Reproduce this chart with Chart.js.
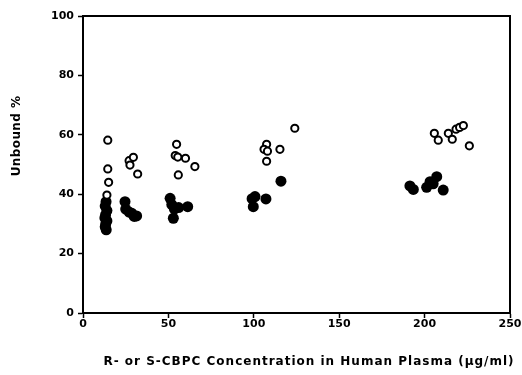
<!DOCTYPE html>
<html>
<head>
<meta charset="utf-8">
<script src="https://cdn.jsdelivr.net/npm/chart.js@4"></script>
<style>
  html, body { margin: 0; padding: 0; background: #fff; }
  #plot { display: block; }
</style>
</head>
<body>
<canvas id="plot" width="522" height="375"></canvas>
<script>
// Open circles (unbound %, first enantiomer)
const openX = [14.5, 14.5, 15, 14, 27, 29.5, 27.5, 32, 54.8, 54, 55.5, 60, 65.5, 55.8,
               124, 107.5, 106, 108, 115.3, 107.5, 205.7, 208, 213.9, 216.2, 218.4, 220.5, 222.7, 226.2];
const openY = [58.2, 48.5, 44, 39.7, 51.3, 52.4, 49.8, 46.8, 56.8, 53, 52.5, 52.1, 49.3, 46.5,
               62.2, 56.8, 55.1, 54.5, 55.1, 51.1, 60.5, 58.2, 60.5, 58.5, 61.9, 62.5, 63.1, 56.3];

// Filled circles (second enantiomer)
const filledX = [13.5, 13, 14, 13.2, 12.8, 14, 13.3, 13, 13.6, 24.6, 25, 27, 28.5, 31.4, 30,
                 51, 52, 53.5, 52.9, 56, 61.3, 100.7, 99.7, 107.1, 99, 115.9,
                 191.4, 193.4, 201.2, 203.2, 207.1, 205, 210.9];
const filledY = [37.5, 36, 34.5, 33, 32, 31, 30, 29, 28, 37.5, 35, 34, 33.6, 32.7, 32.5,
                 38.6, 36.5, 35, 31.9, 35.5, 35.8, 39.2, 35.8, 38.4, 38.5, 44.4,
                 42.8, 41.6, 42.3, 44.2, 45.9, 43.5, 41.4];

const xTicks = [0, 50, 100, 150, 200, 250];
const yTicks = [0, 20, 40, 60, 80, 100];
const xTitle = 'R- or S-CBPC Concentration in Human Plasma (\u00b5g/ml)';
const yTitle = 'Unbound %';

function toPoints(xs, ys) {
    return xs.map((x, i) => ({ x: x, y: ys[i] }));
}

const FONT = 'DejaVu Sans, sans-serif';

// frame on top/right plus axis titles
const framePlugin = {
    id: 'frame',
    afterDraw(chart) {
        const { ctx, chartArea: a } = chart;
        ctx.save();
        ctx.strokeStyle = '#000';
        ctx.lineWidth = 2;
        ctx.beginPath();
        ctx.moveTo(a.left, a.top);
        ctx.lineTo(a.right, a.top);
        ctx.lineTo(a.right, a.bottom);
        ctx.stroke();

        ctx.fillStyle = '#000';
        ctx.font = 'bold 12px ' + FONT;
        ctx.letterSpacing = '1px';
        ctx.textAlign = 'center';
        ctx.textBaseline = 'middle';
        ctx.fillText(xTitle, 309, 362);

        ctx.letterSpacing = '0.4px';
        ctx.translate(17, 136);
        ctx.rotate(-Math.PI / 2);
        ctx.fillText(yTitle, 0, 0);
        ctx.restore();
    }
};

new Chart(document.getElementById('plot'), {
    type: 'scatter',
    data: {
        datasets: [
            {
                label: 'open',
                data: toPoints(openX, openY),
                pointRadius: 3.6,
                pointBorderWidth: 2,
                pointBorderColor: '#000',
                pointBackgroundColor: '#fff'
            },
            {
                label: 'filled',
                data: toPoints(filledX, filledY),
                pointRadius: 5.5,
                pointBorderWidth: 0,
                pointBorderColor: '#000',
                pointBackgroundColor: '#000'
            }
        ]
    },
    options: {
        responsive: false,
        animation: false,
        devicePixelRatio: 1,
        layout: { padding: { top: 16, right: 12, left: 0, bottom: 0 } },
        plugins: {
            legend: { display: false },
            tooltip: { enabled: false }
        },
        scales: {
            x: {
                type: 'linear',
                min: 0,
                max: 250,
                afterBuildTicks: s => { s.ticks = xTicks.map(v => ({ value: v })); },
                afterFit: s => { s.height = 62; },
                grid: { drawOnChartArea: false, tickLength: 5, tickColor: '#000', tickWidth: 1.5 },
                border: { color: '#000', width: 2 },
                ticks: { color: '#000', font: { family: FONT, size: 11, weight: 'bold' }, padding: 0 }
            },
            y: {
                type: 'linear',
                min: 0,
                max: 100,
                afterBuildTicks: s => { s.ticks = yTicks.map(v => ({ value: v })); },
                afterFit: s => { s.width = 83; },
                grid: { drawOnChartArea: false, tickLength: 5, tickColor: '#000', tickWidth: 1.5 },
                border: { color: '#000', width: 2 },
                ticks: { color: '#000', font: { family: FONT, size: 11, weight: 'bold' }, padding: 4 }
            }
        }
    },
    plugins: [framePlugin]
});
</script>
</body>
</html>
